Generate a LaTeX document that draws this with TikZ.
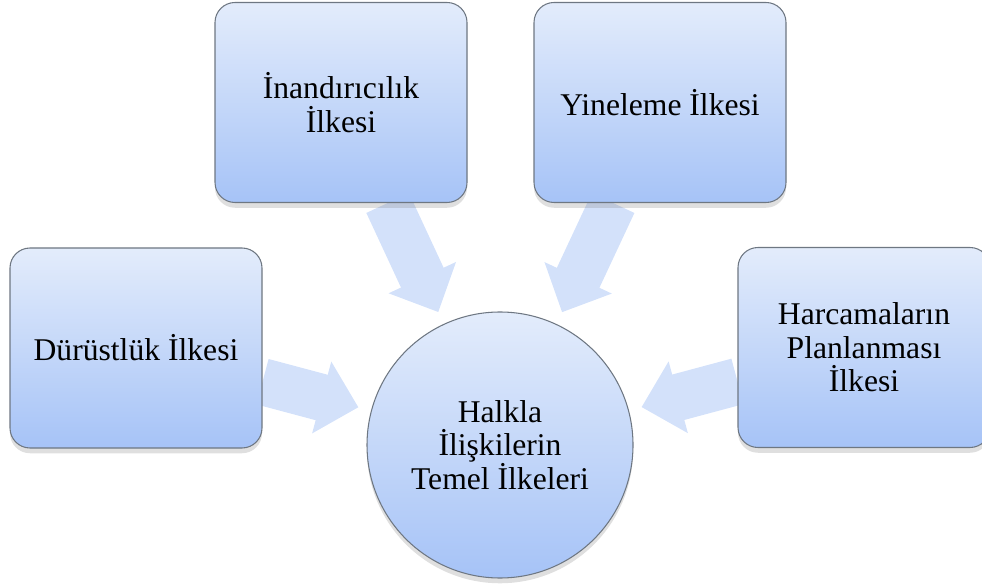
\documentclass[tikz,border=0pt]{standalone}
\usepackage{fontspec}
\setmainfont{Liberation Serif}
\usetikzlibrary{arrows.meta,shadows,backgrounds}
\definecolor{boxtop}{HTML}{E3ECFB}
\definecolor{boxbot}{HTML}{A6C3F7}
\definecolor{boxline}{HTML}{6E7782}
\definecolor{arrowfill}{HTML}{D3E1FA}
\begin{document}
\begin{tikzpicture}[principle_node/.style={rectangle,rounded corners=0.4cm,draw=boxline,line width=0.6pt,top color=boxtop,bottom color=boxbot,minimum width=5.04cm,minimum height=4cm,align=center,font=\fontsize{18}{19}\selectfont,drop shadow={shadow xshift=0pt,shadow yshift=-3pt,opacity=0.25}},center_node/.style={circle,draw=boxline,line width=0.6pt,top color=boxtop,bottom color=boxbot,minimum size=5.32cm,align=center,font=\fontsize{18}{19}\selectfont,drop shadow={shadow xshift=0pt,shadow yshift=-3pt,opacity=0.25}},block_arrow/.style={draw=arrowfill,line width=0.94cm,-{Triangle[width=1.44cm,length=0.76cm]},shorten >=0.26cm}]
		
		\useasboundingbox (0,0) rectangle (19.64,11.72);
		
		\node[center_node] (ilke) at (10,2.82) {Halkla\\İlişkilerin\\Temel İlkeleri};
		\node[principle_node] (durust) at (2.72,4.76) {Dürüstlük İlkesi};
		\node[principle_node] (inan) at (6.82,9.67) {İnandırıcılık\\İlkesi};
		\node[principle_node] (yinele) at (13.2,9.67) {Yineleme İlkesi};
		\node[principle_node] (harca) at (17.28,4.77) {Harcamaların\\Planlanması\\İlkesi};
		
		\begin{scope}[on background layer]
		\draw[block_arrow] (durust) -- (ilke);
		\draw[block_arrow] (inan) -- (ilke);
		\draw[block_arrow] (yinele) -- (ilke);
		\draw[block_arrow] (harca) -- (ilke);
		\end{scope}
		\end{tikzpicture}
\end{document}
